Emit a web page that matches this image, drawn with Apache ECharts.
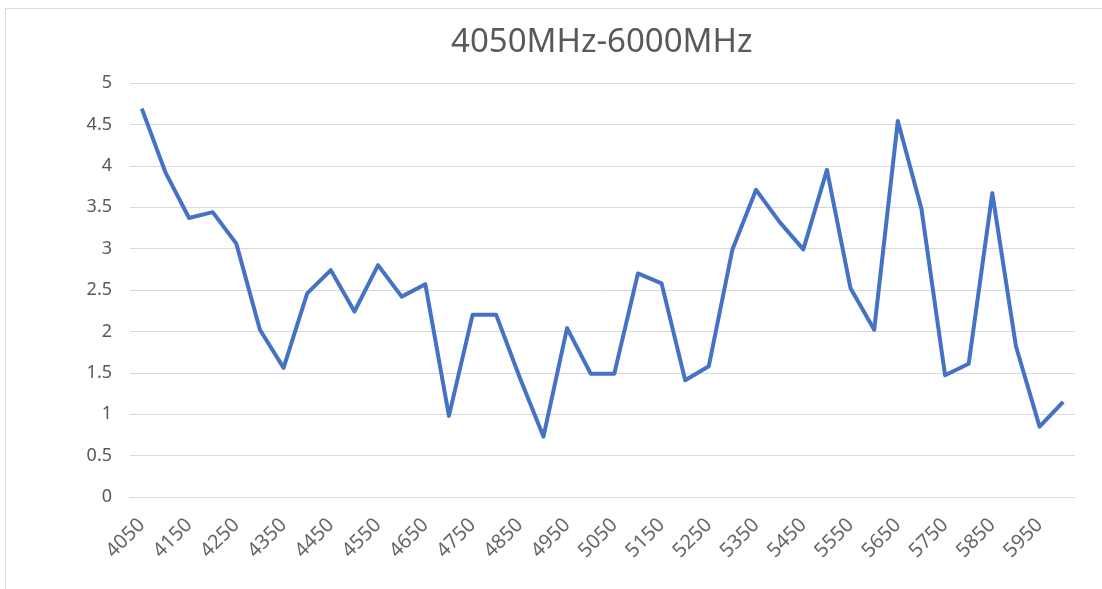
<!DOCTYPE html>
<html>
<head>
<meta charset="utf-8">
<script src="https://cdn.jsdelivr.net/npm/echarts@6/dist/echarts.min.js"></script>
<style>
html,body{margin:0;padding:0;background:#fff;}
#chart{width:1102px;height:589px;}
</style>
</head>
<body>
<div id="chart"></div>
<script>
const titleText = '4050MHz-6000MHz';
const categories = ['4050','4100','4150','4200','4250','4300','4350','4400','4450','4500',
  '4550','4600','4650','4700','4750','4800','4850','4900','4950','5000',
  '5050','5100','5150','5200','5250','5300','5350','5400','5450','5500',
  '5550','5600','5650','5700','5750','5800','5850','5900','5950','6000'];
const values = [4.69, 3.92, 3.37, 3.44, 3.06, 2.02, 1.56, 2.46, 2.74, 2.24,
  2.80, 2.42, 2.57, 0.98, 2.20, 2.20, 1.44, 0.73, 2.04, 1.49,
  1.49, 2.70, 2.58, 1.41, 1.58, 2.99, 3.71, 3.32, 2.99, 3.95,
  2.52, 2.02, 4.54, 3.48, 1.47, 1.61, 3.67, 1.82, 0.85, 1.15];

const chart = echarts.init(document.getElementById('chart'), null, {renderer: 'canvas'});
const font = '"Noto Sans", "Open Sans", sans-serif';
chart.setOption({
  backgroundColor: '#ffffff',
  animation: false,
  graphic: [{
    type: 'rect',
    shape: {x: 5.5, y: 8.5, width: 1110, height: 600},
    style: {fill: 'none', stroke: '#d9d9d9', lineWidth: 1},
    silent: true
  }],
  title: {
    text: titleText,
    left: 446,
    top: 21,
    textStyle: {fontFamily: font, fontSize: 33, fontWeight: 'normal', color: '#595959'}
  },
  grid: {left: 130, right: 27, top: 83, bottom: 92, containLabel: false},
  xAxis: {
    type: 'category',
    data: categories,
    boundaryGap: true,
    axisLine: {show: true, lineStyle: {color: '#d9d9d9', width: 1}},
    axisTick: {show: false},
    axisLabel: {
      interval: 1,
      rotate: 45,
      margin: 25,
      fontFamily: font,
      fontSize: 20,
      color: '#666666'
    }
  },
  yAxis: {
    type: 'value',
    min: 0,
    max: 5,
    interval: 0.5,
    axisLine: {show: false},
    axisTick: {show: false},
    splitLine: {lineStyle: {color: '#d9d9d9', width: 1}},
    axisLabel: {fontFamily: font, fontSize: 18, color: '#595959', margin: 18}
  },
  series: [{
    type: 'line',
    data: values,
    symbol: 'none',
    lineStyle: {color: '#4472c4', width: 4, join: 'round'},
    itemStyle: {color: '#4472c4'}
  }]
});
</script>
</body>
</html>
